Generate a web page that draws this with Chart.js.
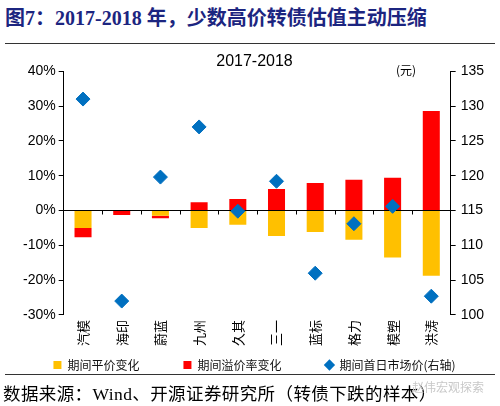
<!DOCTYPE html>
<html>
<head>
<meta charset="utf-8">
<script src="https://cdn.jsdelivr.net/npm/chart.js@4/dist/chart.umd.min.js"></script>
<style>
  body { margin: 0; width: 500px; height: 406px; background: #fff; position: relative; overflow: hidden; }
  .head { position: absolute; left: 5px; top: 2px; font: bold 20px "Noto Sans CJK SC", sans-serif; color: #1c2580; white-space: nowrap; }
  .head .num { font-family: "Liberation Serif", serif; }
  .rule { position: absolute; left: 5px; width: 490px; height: 0; border-top: 1.5px solid #333; }
  #wrap { position: absolute; left: 0; top: 48px; width: 500px; height: 333px; }
  .unit { position: absolute; left: 396px; top: 61px; font: 12px "Noto Sans CJK SC", sans-serif; color: #000; }
  .src { position: absolute; left: 3px; top: 380px; font: 17.5px "Noto Sans CJK SC", sans-serif; letter-spacing: 0.4px; color: #000; white-space: nowrap; }
  .src .en { font-family: "Liberation Serif", serif; }
  .mark { position: absolute; left: 412px; top: 378px; font: 12px "Noto Sans CJK SC", sans-serif; color: #c8c8c8; }
</style>
</head>
<body>
<div class="head">图<span class="num">7</span>：<span class="num">2017-2018 </span>年，少数高价转债估值主动压缩</div>
<div class="rule" style="top:43px"></div>
<div id="wrap"><canvas id="chart"></canvas></div>
<div class="unit">(元)</div>
<div class="rule" style="top:374px"></div>
<div class="src">数据来源：<span class="en">Wind</span>、开源证券研究所（转债下跌的样本）</div>
<div class="mark">赵伟宏观探索</div>
<script>
const categories = ['汽模', '海印', '蔚蓝', '九州', '久其', '三一', '蓝标', '格力', '模塑', '洪涛'];
const parityChange = [-5.0, 0, -1.5, -5.0, -4.1, -7.3, -6.2, -8.4, -13.5, -18.7];
const premiumChange = [-2.7, -1.3, -0.7, 2.4, 3.3, 6.2, 7.9, 8.8, 9.4, 28.6];
const firstDayPrice = [131.0, 102.0, 119.8, 127.0, 114.9, 119.2, 106.0, 113.1, 115.6, 102.7];
const leftTicks = [-30, -20, -10, 0, 10, 20, 30, 40];
const rightTicks = [100, 105, 110, 115, 120, 125, 130, 135];

// small down ticks on the zero line between categories
const zeroTicks = {
  id: 'zeroTicks',
  afterDraw(chart) {
    const x = chart.scales.x, y = chart.scales.y;
    const y0 = y.getPixelForValue(0);
    const ctx = chart.ctx;
    ctx.save();
    ctx.strokeStyle = '#000';
    ctx.lineWidth = 1;
    ctx.beginPath();
    for (let i = 0; i < categories.length - 1; i++) {
      const xb = Math.round((x.getPixelForValue(i) + x.getPixelForValue(i + 1)) / 2) + 0.5;
      ctx.moveTo(xb, y0);
      ctx.lineTo(xb, y0 + 4);
    }
    ctx.stroke();
    ctx.restore();
  }
};

const tickFont = { family: 'Liberation Sans, Arial', size: 14 };
const legendGap = '\u2003\u2003\u2003';

new Chart(document.getElementById('chart'), {
  type: 'bar',
  data: {
    labels: categories,
    datasets: [{
        label: '期间平价变化',
        data: parityChange,
        backgroundColor: '#ffc000',
        order: 1,
        yAxisID: 'y'
      }, {
        label: '期间溢价率变化',
        data: premiumChange,
        backgroundColor: '#ff0000',
        order: 2,
        yAxisID: 'y'
      }, {
        type: 'line',
        label: '期间首日市场价(右轴)',
        data: firstDayPrice,
        showLine: false,
        pointStyle: 'rectRot',
        pointRadius: 7,
        pointBackgroundColor: '#0070c0',
        pointBorderColor: '#0070c0',
        backgroundColor: '#0070c0',
        borderColor: '#0070c0',
        order: 0,
        yAxisID: 'y1'
      }
    ]
  },
  options: {
    responsive: true,
    maintainAspectRatio: false,
    animation: false,
    barPercentage: 0.44,
    categoryPercentage: 1,
    layout: { padding: { left: 20, right: 11, top: 0, bottom: 0 } },
    plugins: {
      title: {
        display: true,
        text: '2017-2018',
        color: '#000',
        font: { family: 'Liberation Sans, Arial', size: 16, weight: 'normal' },
        padding: { top: 4, bottom: 0 }
      },
      legend: {
        position: 'bottom',
        labels: {
          usePointStyle: true,
          boxWidth: 8,
          boxHeight: 8,
          padding: 8,
          color: '#111',
          font: { family: 'Noto Sans CJK SC', size: 12 },
          generateLabels: (chart) => Chart.defaults.plugins.legend.labels.generateLabels(chart)
            .sort((a, b) => a.datasetIndex - b.datasetIndex)
            .map((l) => ({
              ...l,
              text: l.datasetIndex < 2 ? l.text + legendGap : l.text,
              pointStyle: l.datasetIndex < 2 ? 'rect' : 'rectRot',
              lineWidth: 0
            }))
        }
      },
      tooltip: { enabled: false }
    },
    scales: {
      x: {
        stacked: true,
        grid: { display: false, drawTicks: false },
        border: { display: false },
        ticks: {
          minRotation: 90,
          maxRotation: 90,
          color: '#000',
          padding: 5,
          font: { family: 'Noto Sans CJK SC', size: 13 }
        }
      },
      y: {
        stacked: true,
        position: 'left',
        min: -30,
        max: 40,
        afterBuildTicks: (axis) => { axis.ticks = leftTicks.map((v) => ({ value: v })); },
        border: { display: true, color: '#000', width: 1 },
        grid: {
          color: (c) => (c.tick && c.tick.value === 0 ? '#000' : 'rgba(0,0,0,0)'),
          tickColor: '#000',
          tickLength: 5
        },
        ticks: {
          color: '#000',
          padding: 3,
          font: tickFont,
          callback: (v) => v + '%'
        }
      },
      y1: {
        position: 'right',
        min: 100,
        max: 135,
        afterBuildTicks: (axis) => { axis.ticks = rightTicks.map((v) => ({ value: v })); },
        border: { display: true, color: '#000', width: 1 },
        grid: { drawOnChartArea: false, tickColor: '#000', tickLength: 5 },
        ticks: { color: '#000', padding: 5, font: tickFont }
      }
    }
  },
  plugins: [zeroTicks]
});
</script>
</body>
</html>
